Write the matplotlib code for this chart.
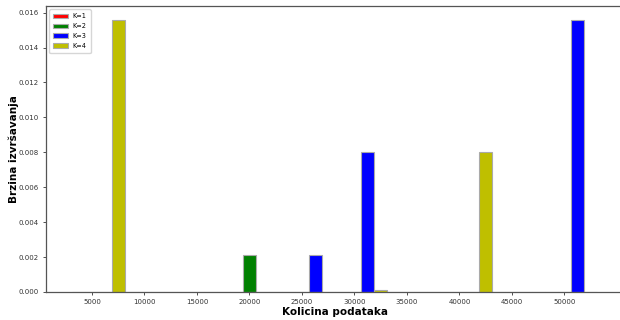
import numpy as np
import matplotlib
matplotlib.use("Agg")
import matplotlib.pyplot as plt

# kolicina podataka
x = np.array([5000, 10000, 15000, 20000, 25000, 30000, 35000, 40000, 45000, 50000])

k1 = [0, 0, 0, 0, 0, 0, 0, 0, 0, 0]
k2 = [0, 0, 0, 0.0021, 0, 0, 0, 0, 0, 0]
k3 = [0, 0, 0, 0, 0.0021, 0.0080, 0, 0, 0, 0.0156]
k4 = [0.0156, 0, 0, 0, 0, 0.00012, 0, 0.0080, 0, 0]

labels = ["K=1", "K=2", "K=3", "K=4"]
colors = ["r", "g", "b", "y"]
w = 1250

fig = plt.figure(figsize=(6.2, 3.2), dpi=100)
ax = fig.add_axes([46 / 620, 28 / 320, 577.5 / 620, 286 / 320])

for i, (vals, lab, c) in enumerate(zip([k1, k2, k3, k4], labels, colors)):
    ax.bar(x + (i - 1) * w, vals, width=w, color=c, edgecolor="#aaaaaa",
           linewidth=0.8, label=lab)

ax.set_xlim(625, 55625)
ax.set_ylim(0, 0.01638)
ax.set_xticks(x)
ax.set_yticks(np.arange(0, 0.0161, 0.002))
ax.yaxis.set_major_formatter(matplotlib.ticker.FormatStrFormatter("%.3f"))
ax.tick_params(labelsize=5, colors="#333333", length=2.5, width=0.6, pad=2.5)
for s in ax.spines.values():
    s.set_color("#555555")
    s.set_linewidth(0.9)

ax.set_xlabel("Kolicina podataka", fontsize=7.5, fontweight="bold", labelpad=1.5)
ax.set_ylabel("Brzina izvršavanja", fontsize=7.5, fontweight="bold", labelpad=0)
ax.legend(loc="upper left", fontsize=4.7, handlelength=2.2, borderpad=0.6,
          labelspacing=0.6)

plt.savefig("out.png", dpi=100)
